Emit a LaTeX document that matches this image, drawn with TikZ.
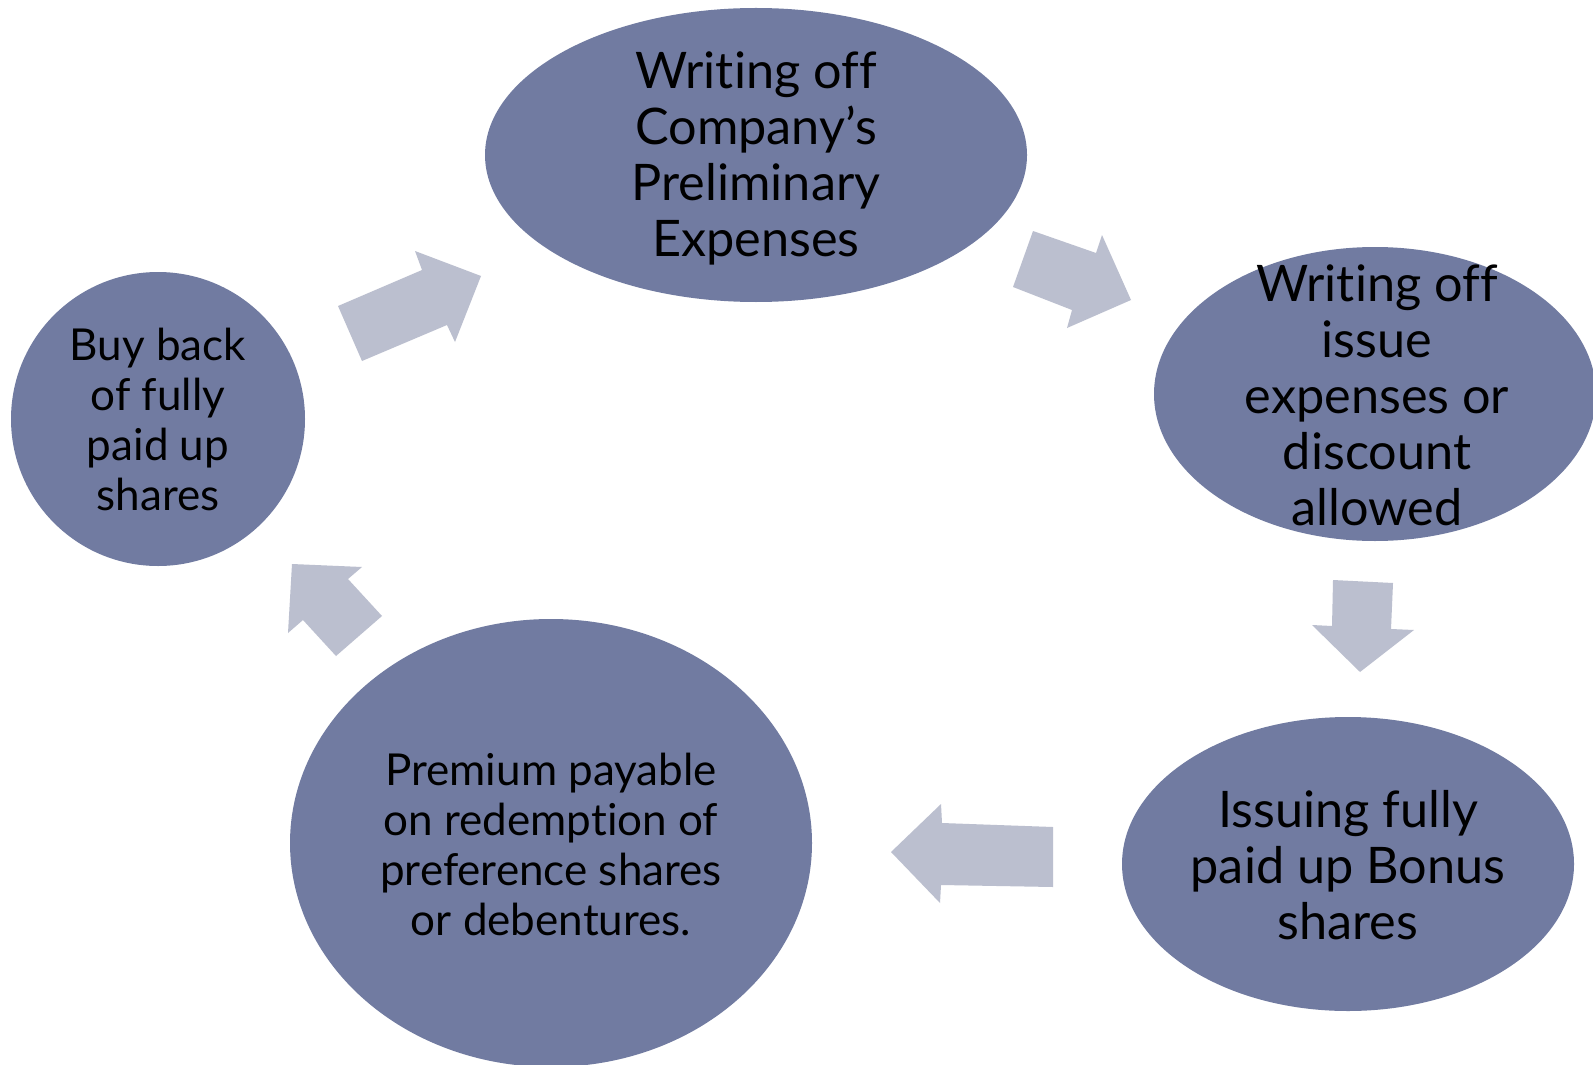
\documentclass[tikz,border=0pt]{standalone}
\usepackage{fontspec}
\setmainfont{Lato}[Ligatures=NoCommon]
\usetikzlibrary{shapes.geometric}
\definecolor{ellfill}{HTML}{717BA1}
\definecolor{arrfill}{HTML}{BBBFCF}
\begin{document}
\begin{tikzpicture}[x=0.5pt,y=-0.5pt,
  ell/.style={ellipse, fill=ellfill, draw=none, inner sep=0pt},
  bigtxt/.style={align=center, inner sep=0pt, text=black, font=\fontsize{25.2}{28}\selectfont},
  smalltxt/.style={align=center, inner sep=0pt, text=black, font=\fontsize{22}{25}\selectfont},
  blockarrow/.style={fill=arrfill, draw=none}]
\useasboundingbox (0,0) rectangle (1593,1064);
\clip (0,0) rectangle (1593,1064);
\fill[white] (0,0) rectangle (1593,1064);

% ellipses
\node[ell, minimum width=271pt, minimum height=147pt] (top) at (756,155) {};
\node[ell, minimum width=221pt, minimum height=147pt] (right) at (1375,394) {};
\node[ell, minimum width=226pt, minimum height=147pt] (botright) at (1348,864) {};
\node[ell, minimum width=261pt, minimum height=224pt] (botleft) at (551,843) {};
\node[ell, minimum width=147pt, minimum height=147pt] (left) at (158,419) {};

% texts
\node[bigtxt] (ttop) at (756,158) {Writing off\\Company’s\\Preliminary\\Expenses};
\node[bigtxt] (tright) at (1377,395) {Writing off\\issue\\expenses or\\discount\\allowed};
\node[bigtxt] (tbotright) at (1348,865) {Issuing fully\\paid up Bonus\\shares};
\node[smalltxt] (tbotleft) at (551,844) {Premium payable\\on redemption of\\preference shares\\or debentures.};
\node[smalltxt] (tleft) at (158,419) {Buy back\\of fully\\paid up\\shares};

% block arrows
\fill[blockarrow] (338,306) -- (422,270) -- (415,251) -- (481,276) -- (455,342) -- (447,325) -- (362,361) -- cycle;
\fill[blockarrow] (1033,231) -- (1096,253) -- (1102,235) -- (1131,300) -- (1067,328) -- (1072,310) -- (1013,287) -- cycle;
\fill[blockarrow] (1333,580) -- (1393,583) -- (1391,629) -- (1414,630) -- (1360,672) -- (1312,625) -- (1332,626) -- cycle;
\fill[blockarrow] (1053,827) -- (1053,887) -- (941,885) -- (940,903) -- (891,852) -- (941,804) -- (942,823) -- cycle;
\fill[blockarrow] (292,564) -- (362,567) -- (348,579) -- (382,616) -- (336,656) -- (303,620) -- (288,633) -- cycle;
\end{tikzpicture}
\end{document}
